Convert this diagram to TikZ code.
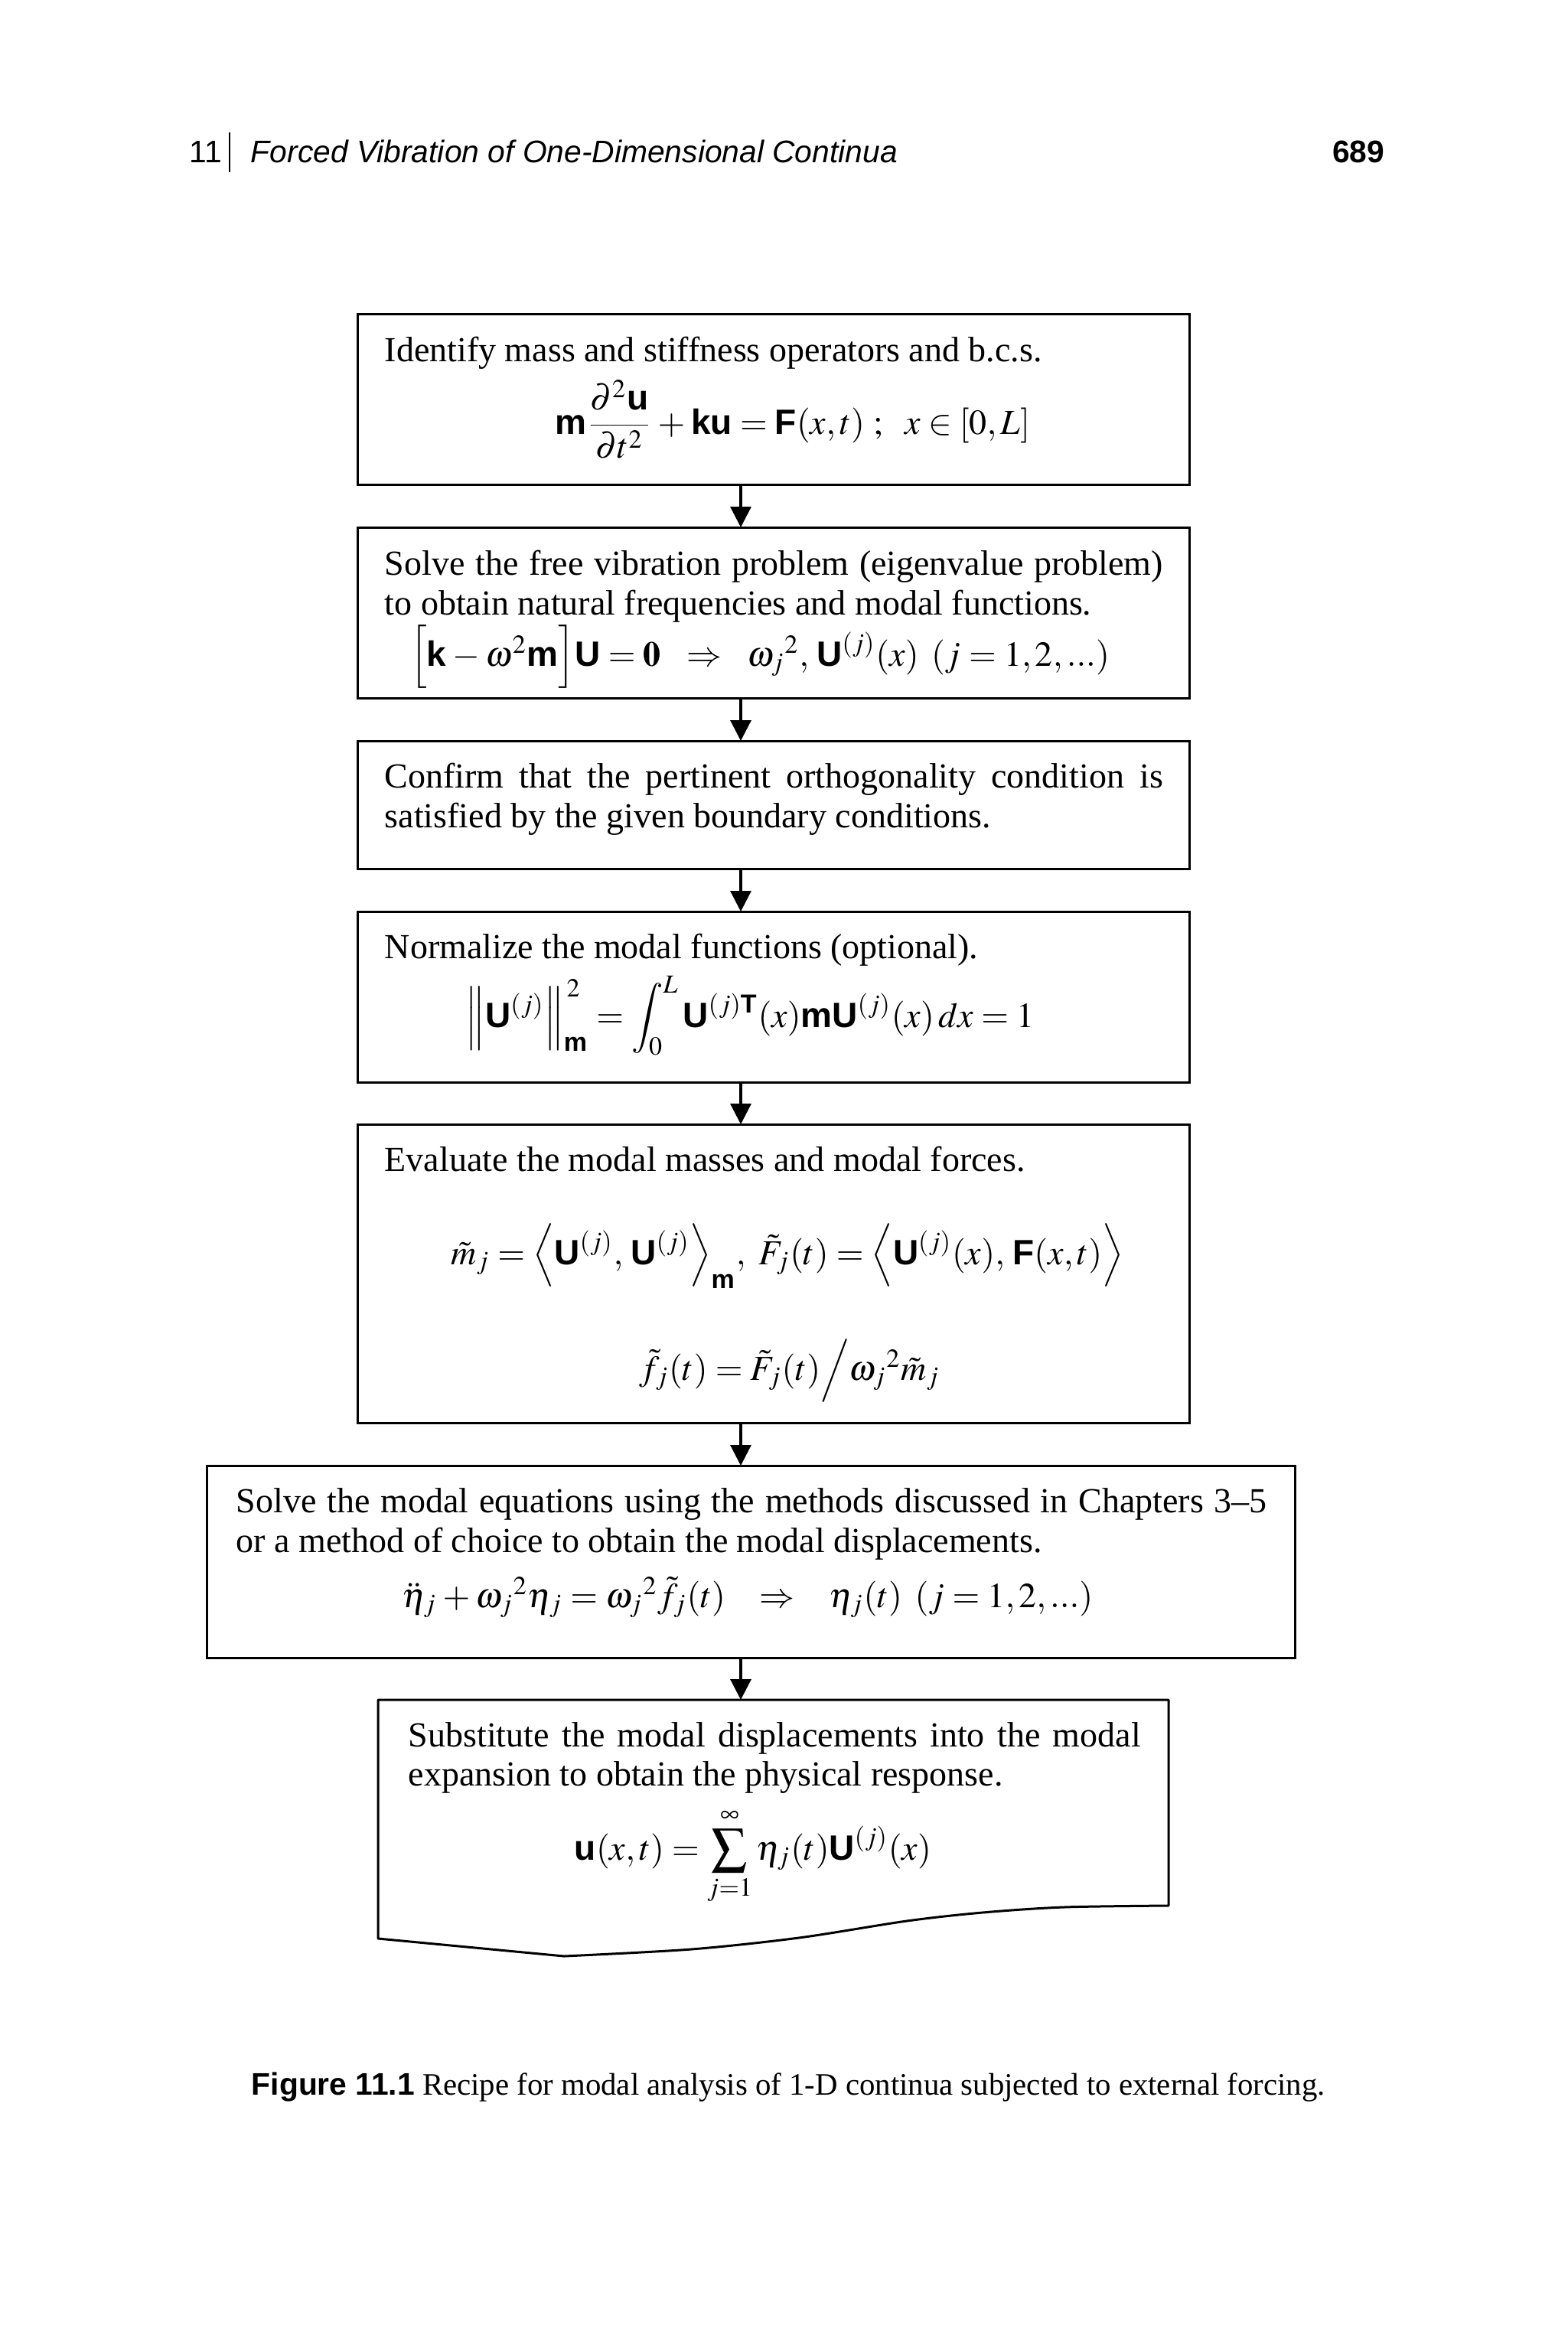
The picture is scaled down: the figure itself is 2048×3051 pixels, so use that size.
\documentclass[tikz,border=0pt]{standalone}
\usepackage{amsmath}
\usepackage{mathptmx}
\usepackage{fontspec}
\setmainfont{Liberation Serif}
\newfontfamily\arialf{Liberation Sans}
\usetikzlibrary{arrows.meta}
\newcommand\bv[1]{\text{\arialf\bfseries #1}}
\AtBeginDocument{\thickmuskip=4mu plus 2mu\relax\medmuskip=3mu plus 1mu\relax}
\begin{document}
\begin{tikzpicture}[x=0.25pt,y=-0.25pt,
  box/.style={draw, line width=0.75pt, inner sep=0pt, outer sep=0pt, anchor=north west, minimum width=271.75pt},
  txt/.style={inner sep=0pt, anchor=base west, font=\fontsize{11.5}{13}\selectfont},
  eq/.style={inner sep=0pt, anchor=base, font=\fontsize{11.5}{13}\selectfont},
  arr/.style={-{Triangle[length=6.75pt,width=6.75pt]}, line width=0.8pt},
  hdr/.style={inner sep=0pt, font=\fontsize{10.2}{12}\selectfont\arialf}]
\fill[white] (0,0) rectangle (2048,3051);
\useasboundingbox (0,0) rectangle (2048,3051);
% header
\node[hdr, anchor=base west] (h1) at (247,212) {11};
\draw[line width=0.6pt] (300,173) -- (300,225);
\node[hdr, anchor=base west] (h2) at (327,212) {\itshape Forced Vibration of One-Dimensional Continua};
\node[hdr, anchor=base east] (h3) at (1810,212) {\bfseries 689};
% boxes
\coordinate (ax) at (968,0);
\node[box, minimum height=55.75pt] (b1) at (467,410) {};
\node[box, minimum height=55.75pt] (b2) at (467,689) {};
\node[box, minimum height=41.75pt] (b3) at (467,968) {};
\node[box, minimum height=55.75pt] (b4) at (467,1191) {};
\node[box, minimum height=97.5pt] (b5) at (467,1469) {};
\node[box, minimum width=355.5pt, minimum height=62.75pt] (b6) at (270,1915) {};
\coordinate (b7) at (968,2221);
\draw[line width=0.75pt, line join=round] (494,2533) -- (494,2221) -- (1527,2221) -- (1527,2490)
  -- plot[smooth, tension=0.5] coordinates {(1527,2490) (1390,2492) (1284,2499) (1185,2510) (1044,2532) (903,2547) (737,2556)}
  -- cycle;
% arrows
\draw[arr] (b1.south -| ax) -- (b2.north -| ax);
\draw[arr] (b2.south -| ax) -- (b3.north -| ax);
\draw[arr] (b3.south -| ax) -- (b4.north -| ax);
\draw[arr] (b4.south -| ax) -- (b5.north -| ax);
\draw[arr] (b5.south -| ax) -- (b6.north -| ax);
\draw[arr] (b6.south -| ax) -- (b7);
% box 1
\node[txt] (t1) at (502,472) {Identify mass and stiffness operators and b.c.s.};
\node[eq] (e1) at (1036,567) {$\bv{m}\dfrac{\partial^2\bv{u}}{\partial t^2}+\bv{ku}=\bv{F}(x,t)\ ;\ \ x\in[0,L]$};
% box 2
\node[txt] (t2a) at (502,751) {\makebox[254.25pt][s]{Solve the free vibration problem (eigenvalue problem)}};
\node[txt] (t2b) at (502,803) {to obtain natural frequencies and modal functions.};
\node[eq] (e2) at (993,870) {$\Big[\bv{k}-\omega^2\bv{m}\Big]\bv{U}=\mathbf{0}\ \ \Rightarrow\ \ \omega_j{}^2,\,\bv{U}^{(j)}(x)\ \,(j=1,2,...)$};
% box 3
\node[txt] (t3a) at (502,1029) {\makebox[254.25pt][s]{Confirm that the pertinent orthogonality condition is}};
\node[txt] (t3b) at (502,1081) {satisfied by the given boundary conditions.};
% box 4
\node[txt] (t4) at (502,1252) {Normalize the modal functions (optional).};
\node[eq] (e4) at (980,1342) {$\Bigl\|\bv{U}^{(j)}\Bigr\|_{\bv{m}}^{\,2}=\displaystyle\int_0^L\bv{U}^{(j)\bv{T}}(x)\bv{mU}^{(j)}(x)\,dx=1$};
% box 5
\node[txt] (t5) at (502,1530) {Evaluate the modal masses and modal forces.};
\node[eq] (e5a) at (1029,1652) {$\tilde m_j=\Bigl\langle\bv{U}^{(j)},\,\bv{U}^{(j)}\Bigr\rangle_{\bv{m}},\ \tilde F_j(t)=\Bigl\langle\bv{U}^{(j)}(x),\,\bv{F}(x,t)\Bigr\rangle$};
\node[eq] (e5b) at (1032,1803) {$\tilde f_j(t)=\tilde F_j(t)\Big/\omega_j{}^2\tilde m_j$};
% box 6
\node[txt] (t6a) at (308,1976) {\makebox[336.75pt][s]{Solve the modal equations using the methods discussed in Chapters 3–5}};
\node[txt] (t6b) at (308,2028) {or a method of choice to obtain the modal displacements.};
\node[eq] (e6) at (977,2100) {$\ddot\eta_j+\omega_j{}^2\eta_j=\omega_j{}^2\tilde f_j(t)\ \ \ \Rightarrow\ \ \ \eta_j(t)\ \,(j=1,2,...)$};
% box 7
\node[txt] (t7a) at (533,2282) {\makebox[239.25pt][s]{Substitute the modal displacements into the modal}};
\node[txt] (t7b) at (533,2333) {expansion to obtain the physical response.};
\node[eq] (e7) at (984,2430) {$\bv{u}(x,t)=\displaystyle\sum_{j=1}^{\infty}\eta_j(t)\bv{U}^{(j)}(x)$};
% caption
\node[inner sep=0pt, anchor=base west, font=\fontsize{10.2}{12}\selectfont] (cap) at (328,2737) {{\arialf\bfseries Figure 11.1} Recipe for modal analysis of 1-D continua subjected to external forcing.};
\end{tikzpicture}
\end{document}
